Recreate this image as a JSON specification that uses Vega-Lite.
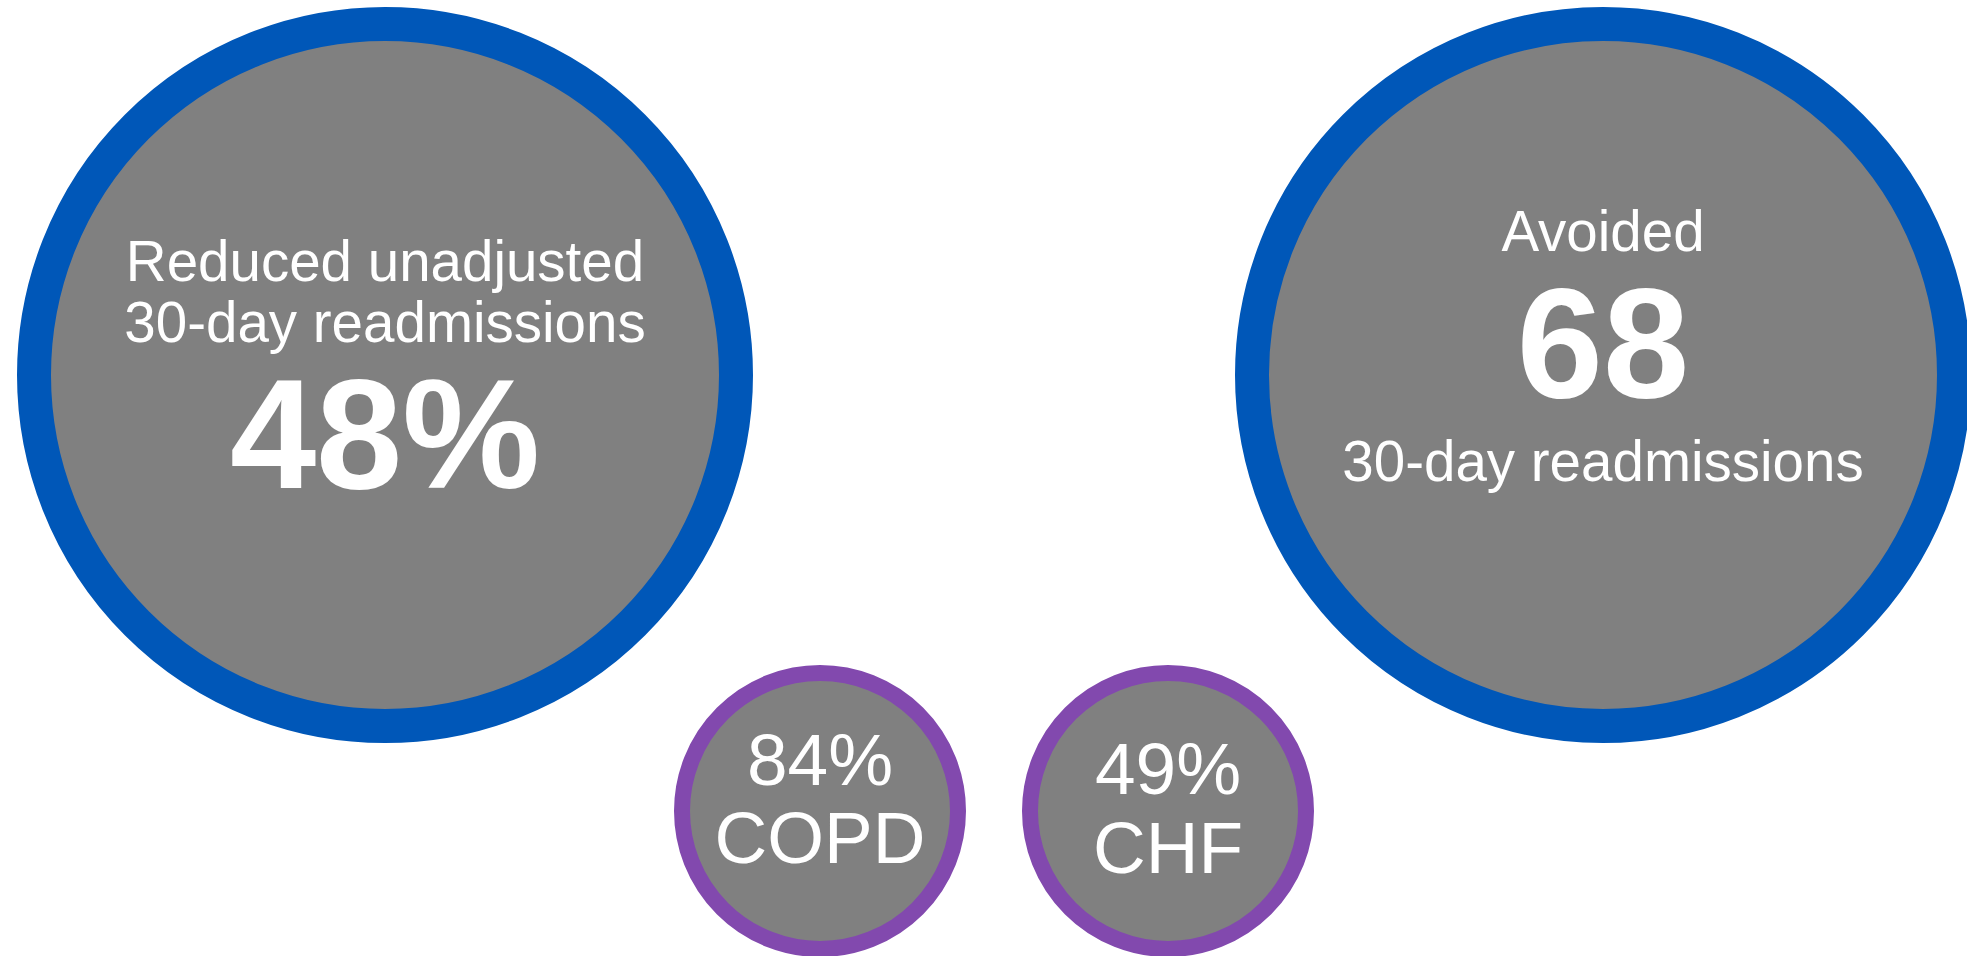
{
  "$schema": "https://vega.github.io/schema/vega-lite/v6.json",
  "width": 1967,
  "height": 956,
  "padding": 0,
  "autosize": {"type": "none"},
  "background": "white",
  "config": {
    "view": {"stroke": null},
    "text": {"font": "Liberation Sans", "color": "white"}
  },
  "datasets": {
    "circles": [
      {"panel": 1, "slot": 4, "tier": "headline", "metric": "Unadjusted 30-day readmissions reduced"},
      {"panel": 4, "slot": 4, "tier": "headline", "metric": "30-day readmissions avoided"},
      {"panel": 2, "slot": 10, "tier": "detail", "metric": "COPD"},
      {"panel": 3, "slot": 10, "tier": "detail", "metric": "CHF"}
    ],
    "labels": [
      {"panel": 1, "slot": 2, "role": "caption", "text": "Reduced unadjusted"},
      {"panel": 1, "slot": 3, "role": "caption", "text": "30-day readmissions"},
      {"panel": 1, "slot": 7, "role": "figure", "text": "48%"},
      {"panel": 4, "slot": 1, "role": "caption", "text": "Avoided"},
      {"panel": 4, "slot": 5, "role": "figure", "text": "68"},
      {"panel": 4, "slot": 6, "role": "caption", "text": "30-day readmissions"},
      {"panel": 2, "slot": 8, "role": "detail", "text": "84%"},
      {"panel": 2, "slot": 11, "role": "detail", "text": "COPD"},
      {"panel": 3, "slot": 9, "role": "detail", "text": "49%"},
      {"panel": 3, "slot": 12, "role": "detail", "text": "CHF"}
    ]
  },
  "encoding": {
    "x": {
      "field": "panel",
      "type": "quantitative",
      "axis": null,
      "scale": {"domain": [1, 2, 3, 4], "range": [385, 820, 1168, 1603], "nice": false, "zero": false}
    },
    "y": {
      "field": "slot",
      "type": "quantitative",
      "axis": null,
      "scale": {
        "domain": [1, 2, 3, 4, 5, 6, 7, 8, 9, 10, 11, 12],
        "range": [251, 281, 342, 375, 397, 481, 488, 785, 794, 811, 863, 873],
        "nice": false,
        "zero": false
      }
    }
  },
  "layer": [
    {
      "data": {"name": "circles"},
      "transform": [{"filter": "datum.tier === 'headline'"}],
      "mark": {
        "type": "point",
        "shape": "circle",
        "filled": true,
        "fill": "#808080",
        "stroke": "#0057B8",
        "strokeWidth": 34,
        "size": 492804,
        "opacity": 1
      }
    },
    {
      "data": {"name": "circles"},
      "transform": [{"filter": "datum.tier === 'detail'"}],
      "mark": {
        "type": "point",
        "shape": "circle",
        "filled": true,
        "fill": "#808080",
        "stroke": "#8249AE",
        "strokeWidth": 16,
        "size": 76176,
        "opacity": 1
      }
    },
    {
      "data": {"name": "labels"},
      "transform": [{"filter": "datum.role === 'caption'"}],
      "mark": {"type": "text", "align": "center", "baseline": "alphabetic", "fontSize": 56.5, "color": "white"},
      "encoding": {"text": {"field": "text"}}
    },
    {
      "data": {"name": "labels"},
      "transform": [{"filter": "datum.role === 'figure'"}],
      "mark": {"type": "text", "align": "center", "baseline": "alphabetic", "fontSize": 155, "fontWeight": "bold", "color": "white"},
      "encoding": {"text": {"field": "text"}}
    },
    {
      "data": {"name": "labels"},
      "transform": [{"filter": "datum.role === 'detail'"}],
      "mark": {"type": "text", "align": "center", "baseline": "alphabetic", "fontSize": 73, "color": "white"},
      "encoding": {"text": {"field": "text"}}
    }
  ]
}
